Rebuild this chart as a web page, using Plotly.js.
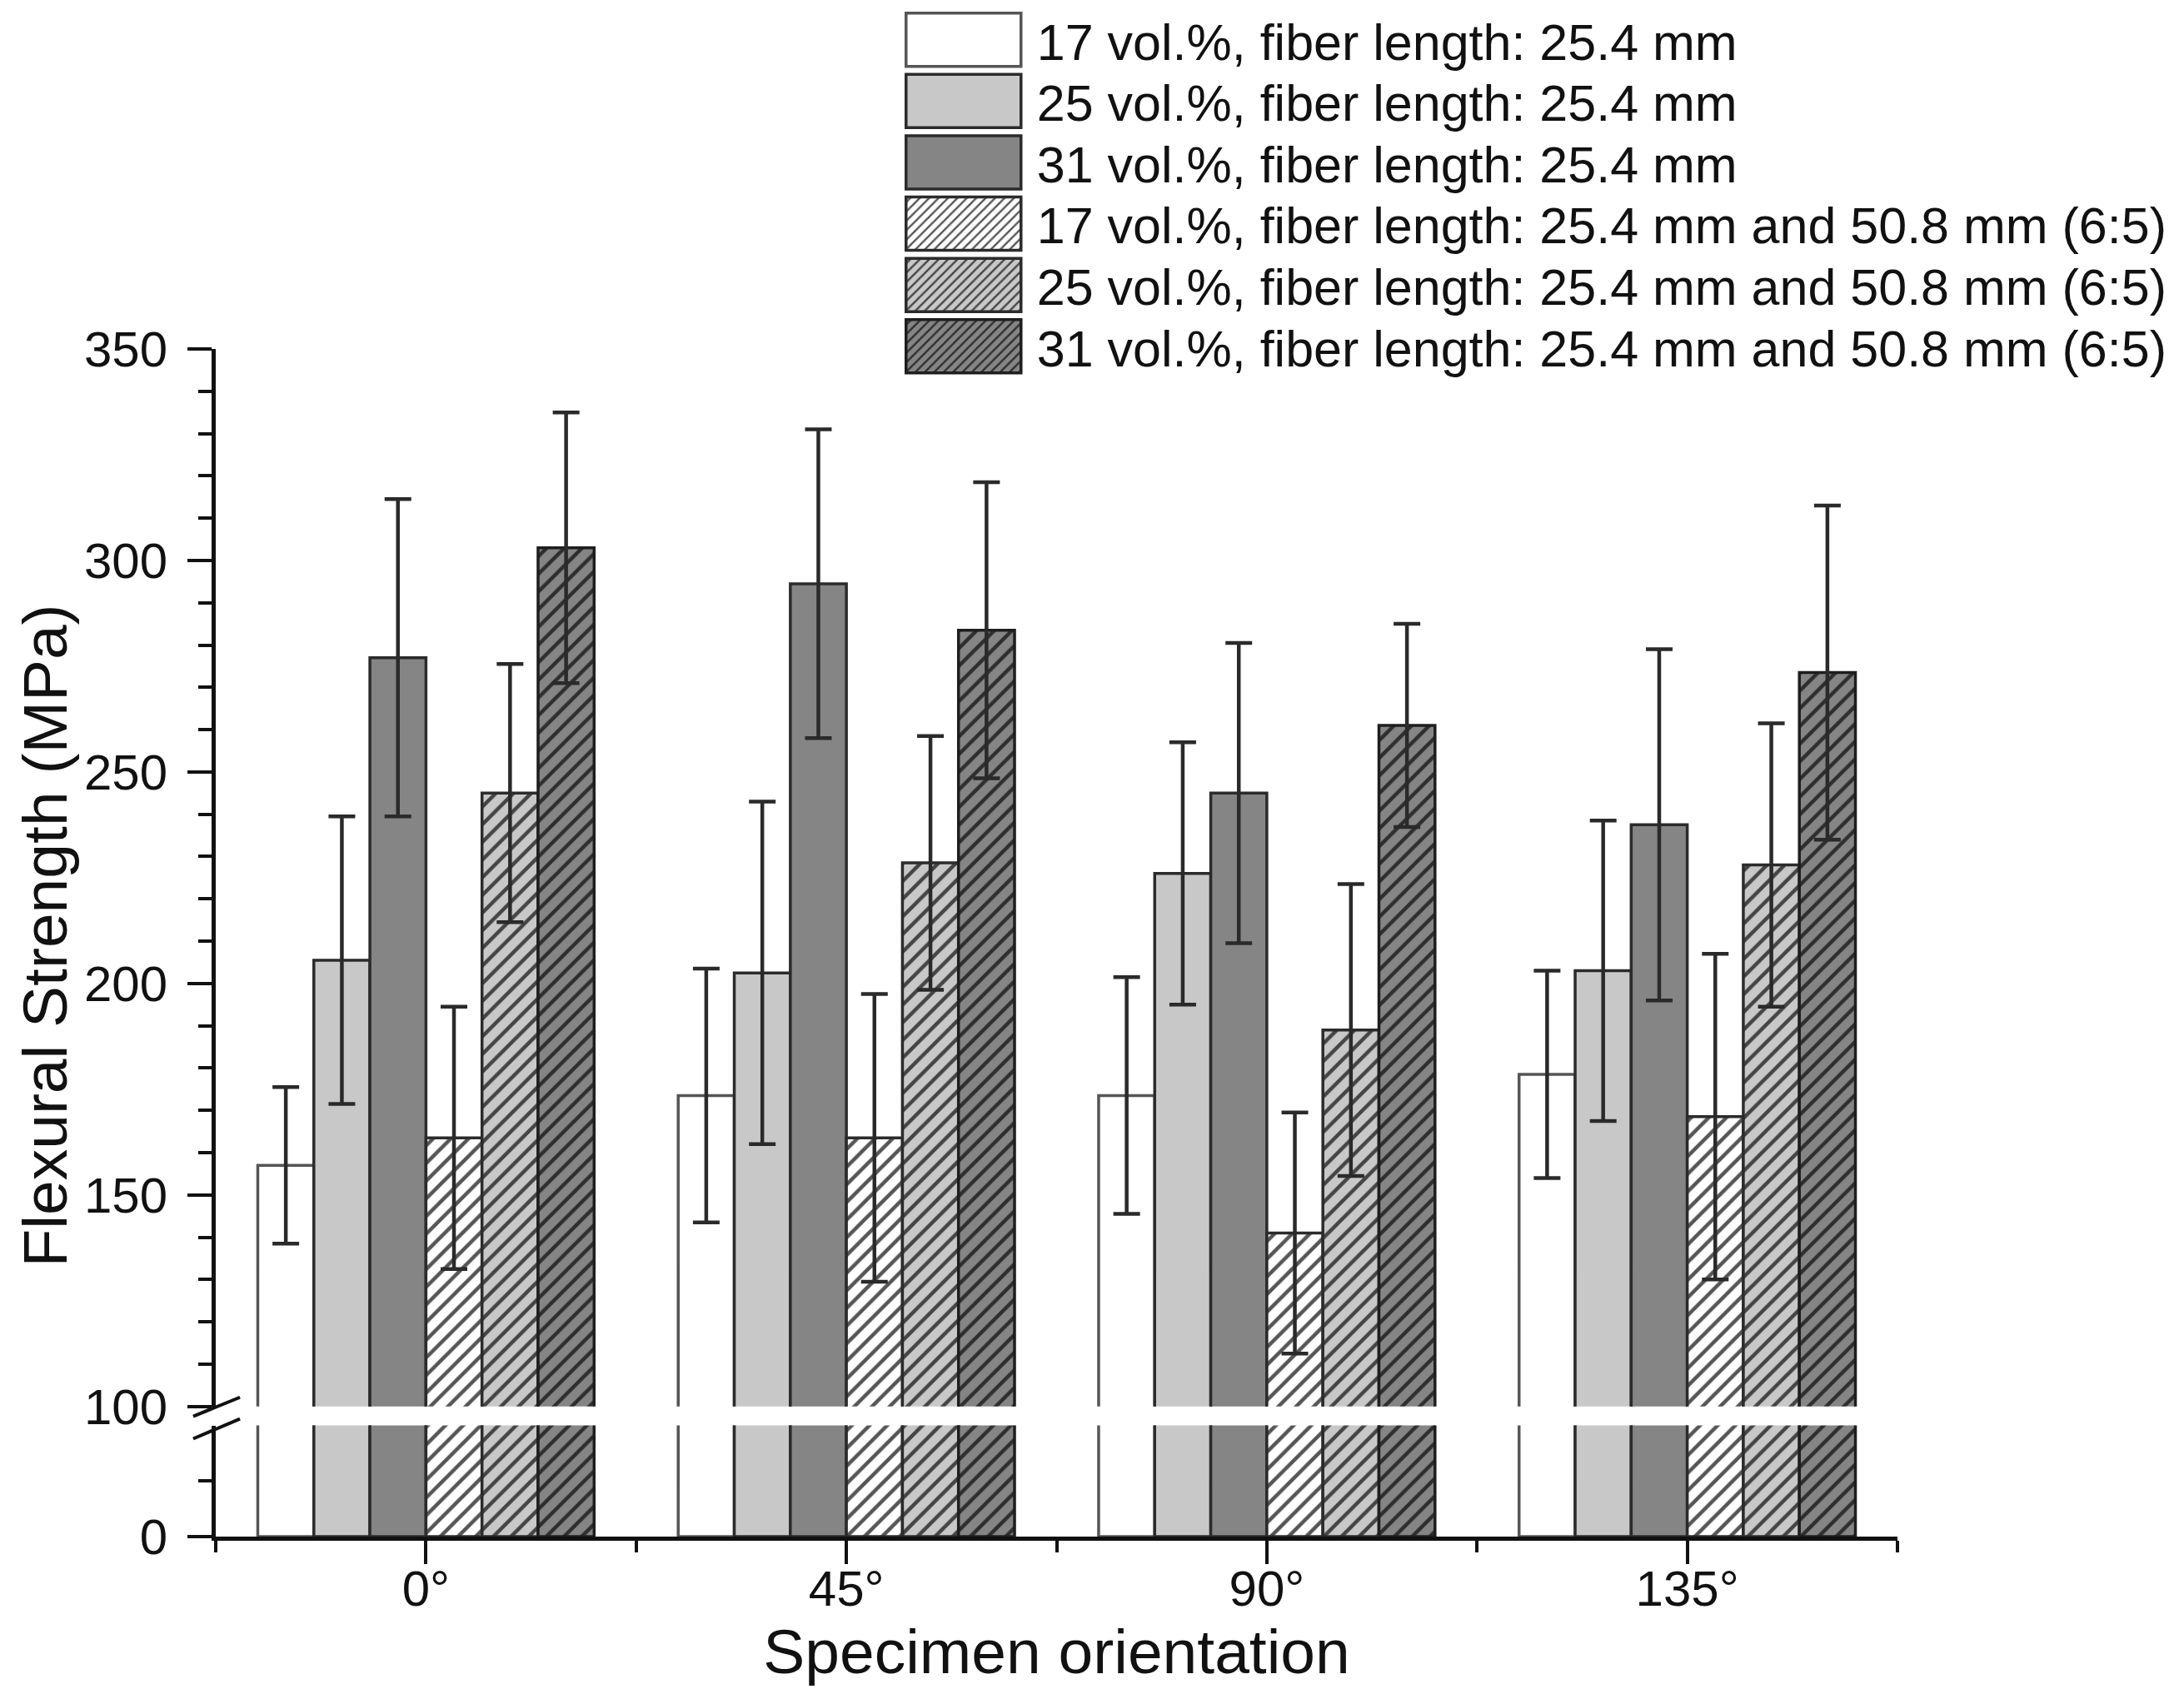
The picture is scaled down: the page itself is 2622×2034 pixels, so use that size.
<!DOCTYPE html>
<html>
<head>
<meta charset="utf-8">
<script src="https://cdn.plot.ly/plotly-3.0.1.min.js"></script>
<style>
  html, body { margin: 0; padding: 0; background: #fff; }
</style>
</head>
<body>
<div id="chart"></div>
<script>
// categories and tick labels
const orientations = [ 0, 1, 2, 3 ];
const orientationLabels = [ '0°', '45°', '90°', '135°' ];

// flexural strength means (MPa)
const vf17 = [ 157, 173.5, 173.5, 178.5 ];
const vf25 = [ 205.5, 202.5, 226, 203 ];
const vf31 = [ 277, 294.5, 245, 237.5 ];
const vf17mix = [ 163.5, 163.5, 141, 168.5 ];
const vf25mix = [ 245, 228.5, 189, 228 ];
const vf31mix = [ 303, 283.5, 261, 273.5 ];

// error bar half-lengths (MPa)
const err17 = [ 18.5, 30, 28, 24.5 ];
const err25 = [ 34, 40.5, 31, 35.5 ];
const err31 = [ 37.5, 36.5, 35.5, 41.5 ];
const err17mix = [ 31, 34, 28.5, 38.5 ];
const err25mix = [ 30.5, 30, 34.5, 33.5 ];
const err31mix = [ 32, 35, 24, 39.5 ];

const seriesNames = [
    '17 vol.%, fiber length: 25.4 mm',
    '25 vol.%, fiber length: 25.4 mm',
    '31 vol.%, fiber length: 25.4 mm',
    '17 vol.%, fiber length: 25.4 mm and 50.8 mm (6:5)',
    '25 vol.%, fiber length: 25.4 mm and 50.8 mm (6:5)',
    '31 vol.%, fiber length: 25.4 mm and 50.8 mm (6:5)'
];

const seriesValues = [ vf17, vf25, vf31, vf17mix, vf25mix, vf31mix ];
const seriesErrors = [ err17, err25, err31, err17mix, err25mix, err31mix ];

const FONT = 'Liberation Sans, Arial, Helvetica, sans-serif';

const styles = [
    { fill: '#ffffff', edge: '#555555', hatch: null },
    { fill: '#c8c8c8', edge: '#2b2b2b', hatch: null },
    { fill: '#858585', edge: '#2b2b2b', hatch: null },
    { fill: '#ffffff', edge: '#2b2b2b', hatch: '#555555' },
    { fill: '#c8c8c8', edge: '#2b2b2b', hatch: '#444444' },
    { fill: '#858585', edge: '#1e1e1e', hatch: '#2e2e2e' }
];

function barMarker( s ) {

    const marker = {
        color: s.fill,
        line: { color: s.edge, width: 3.5 }
    };

    if ( s.hatch ) {
        marker.pattern = {
            shape: '/',
            bgcolor: s.fill,
            fgcolor: s.hatch,
            size: 15,
            solidity: 0.3
        };
    }

    return marker;

}

const data = [];

// upper segment of the broken axis (100 - 350), carries legend and error bars
seriesValues.forEach( ( values, i ) => {
    data.push( {
        type: 'bar',
        name: seriesNames[ i ],
        x: orientations,
        y: values,
        xaxis: 'x',
        yaxis: 'y2',
        marker: barMarker( styles[ i ] ),
        error_y: {
            type: 'data',
            array: seriesErrors[ i ],
            visible: true,
            color: '#2a2a2a',
            thickness: 4.5,
            width: 16
        },
        hoverinfo: 'skip'
    } );
} );

// lower segment (0 - 100)
seriesValues.forEach( ( values, i ) => {
    data.push( {
        type: 'bar',
        name: seriesNames[ i ],
        x: orientations,
        y: values,
        xaxis: 'x',
        yaxis: 'y',
        showlegend: false,
        marker: barMarker( styles[ i ] ),
        hoverinfo: 'skip'
    } );
} );

const axisCommon = {
    showline: true,
    linecolor: '#111111',
    linewidth: 5,
    ticks: 'outside',
    tickcolor: '#111111',
    tickwidth: 4,
    showgrid: false,
    zeroline: false,
    tickfont: { family: FONT, size: 60, color: '#111111' }
};

const layout = {
    width: 2622,
    height: 2034,
    margin: { l: 259, r: 344, t: 413, b: 189 },
    paper_bgcolor: '#ffffff',
    plot_bgcolor: 'rgba(0,0,0,0)',
    font: { family: FONT, color: '#111111' },
    barmode: 'group',
    bargap: 0.2,
    bargroupgap: 0,
    showlegend: true,
    legend: {
        x: 0.409,
        y: 1.285,
        xanchor: 'left',
        yanchor: 'top',
        itemwidth: 150,
        bgcolor: 'rgba(0,0,0,0)',
        font: { family: FONT, size: 61, color: '#111111' },
        itemclick: false,
        itemdoubleclick: false
    },
    xaxis: Object.assign( {}, axisCommon, {
        anchor: 'y',
        range: [ -0.5, 3.5 ],
        tickvals: orientations,
        ticktext: orientationLabels,
        ticklen: 28,
        ticklabelstandoff: -22,
        minor: {
            tick0: 0.5,
            dtick: 1,
            ticks: 'outside',
            ticklen: 14,
            tickwidth: 4,
            tickcolor: '#111111'
        },
        title: {
            text: 'Specimen orientation',
            font: { family: FONT, size: 75, color: '#111111' },
            standoff: 18
        }
    } ),
    yaxis: Object.assign( {}, axisCommon, {
        anchor: 'x',
        domain: [ 0, 0.0936 ],
        range: [ 0, 100 ],
        tickvals: [ 0 ],
        ticktext: [ '0' ],
        ticklen: 29,
        ticklabelstandoff: 12,
        minor: {
            tickvals: [ 50 ],
            ticks: 'outside',
            ticklen: 16,
            tickwidth: 4,
            tickcolor: '#111111'
        }
    } ),
    yaxis2: Object.assign( {}, axisCommon, {
        anchor: 'x',
        domain: [ 0.1096, 1 ],
        range: [ 100, 350 ],
        tick0: 100,
        dtick: 50,
        ticklen: 29,
        ticklabelstandoff: 12,
        minor: {
            dtick: 10,
            ticks: 'outside',
            ticklen: 16,
            tickwidth: 4,
            tickcolor: '#111111'
        }
    } ),
    // axis break marks
    shapes: [
        {
            type: 'line', xref: 'paper', yref: 'paper',
            x0: -0.0134, y0: 0.1013, x1: 0.0144, y1: 0.1173,
            line: { color: '#111111', width: 4 }
        },
        {
            type: 'line', xref: 'paper', yref: 'paper',
            x0: -0.0134, y0: 0.0824, x1: 0.0144, y1: 0.0992,
            line: { color: '#111111', width: 4 }
        }
    ],
    annotations: [
        {
            text: 'Flexural Strength (MPa)',
            xref: 'paper', yref: 'paper',
            x: -0.1015, y: 0.506,
            xanchor: 'center', yanchor: 'middle',
            textangle: -90,
            showarrow: false,
            font: { family: FONT, size: 75, color: '#111111' }
        }
    ]
};

const chartDiv = document.getElementById( 'chart' );

// the figure's legend has wide swatch boxes stacked tightly;
// Plotly draws small squares, so reshape them once the legend exists
function fixLegend() {

    const items = chartDiv.querySelectorAll( 'g.legend g.traces' );
    let firstY = null;

    items.forEach( ( item, i ) => {

        const m = /translate\(\s*([-\d.e]+)[ ,]+([-\d.e]+)\s*\)/.exec( item.getAttribute( 'transform' ) || '' );
        if ( m ) {
            if ( item.dataset.y0 === undefined ) item.dataset.y0 = m[ 2 ];
            if ( firstY === null ) firstY = parseFloat( item.dataset.y0 ) - 11;
            item.setAttribute( 'transform', 'translate(' + m[ 1 ] + ',' + ( firstY + i * 73.6 ) + ')' );
        }

        const text = item.querySelector( 'text.legendtext' );
        const bar = item.querySelector( 'g.legendpoints path' );
        if ( !text || !bar ) return;

        const tx = parseFloat( text.getAttribute( 'x' ) ) || 40;
        bar.removeAttribute( 'transform' );
        bar.setAttribute( 'd', 'M' + ( tx - 157 ) + ',-32H' + ( tx - 19 ) + 'V32H' + ( tx - 157 ) + 'Z' );
        bar.style.strokeWidth = '3.5px';

    } );

}

Plotly.newPlot( chartDiv, data, layout, { displayModeBar: false, staticPlot: true } ).then( ( gd ) => {

    fixLegend();
    gd.on( 'plotly_afterplot', fixLegend );
    setTimeout( fixLegend, 200 );
    setTimeout( fixLegend, 800 );

} );
</script>
</body>
</html>
